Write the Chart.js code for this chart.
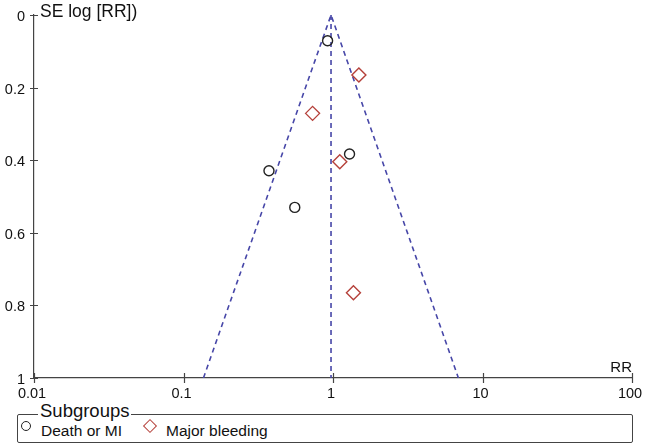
<!DOCTYPE html>
<html>
<head>
<meta charset="utf-8">
<script src="https://cdn.jsdelivr.net/npm/chart.js@4"></script>
<style>
  body { margin: 0; background: #fff; font-family: "Liberation Sans", Arial, sans-serif; }
  #wrap { position: relative; width: 646px; height: 446px; }
  #chartBox { position: absolute; left: 0; top: 0; width: 646px; height: 400px; }
  #legendBox { position: absolute; left: 17px; top: 414px; width: 614px; height: 27px;
               border: 1px solid #444; border-radius: 2px; }
  #legendTitle { position: absolute; left: 38px; top: 400px; padding: 0 2px; background: #fff;
                 font-size: 18.5px; color: #111; line-height: 21px; }
  .sym-circle { position: absolute; left: 21px; top: 421px; width: 8px; height: 8px;
                border: 1.4px solid #222; border-radius: 50%; }
  .sym-diamond { position: absolute; left: 145px; top: 421px; width: 8px; height: 8px;
                 border: 1.4px solid #b5403a; transform: rotate(45deg); }
  .lbl { position: absolute; top: 422px; font-size: 15.5px; color: #111; line-height: 18px; }
</style>
</head>
<body>
<div id="wrap">
  <div id="chartBox"><canvas id="funnel"></canvas></div>
  <div id="legendBox"></div>
  <div id="legendTitle">Subgroups</div>
  <span class="sym-circle"></span>
  <span class="lbl" style="left:41px">Death or MI</span>
  <span class="sym-diamond"></span>
  <span class="lbl" style="left:166px">Major bleeding</span>
</div>
<script>
// study points: relative risk and standard error of log RR
const deathRR = [0.92, 1.29, 0.373, 0.555];
const deathSE = [0.071, 0.383, 0.429, 0.530];
const bleedRR = [1.49, 0.73, 1.11, 1.37];
const bleedSE = [0.165, 0.271, 0.404, 0.765];

// pooled estimate line and 95% funnel limits
const pooledRR = [0.97, 0.97];
const pooledSE = [0, 1];
const funnelRR = [0.136, 0.97, 6.9];
const funnelSE = [1, 0, 1];

const xTicks = [0.01, 0.1, 1, 10, 100];
const xLabels = ['0.01', '0.1', '1', '10', '100'];
const yTicks = [0, 0.2, 0.4, 0.6, 0.8, 1];
const yLabels = ['0', '0.2', '0.4', '0.6', '0.8', '1'];

const pts = (xs, ys) => xs.map((x, i) => ({ x: x, y: ys[i] }));
const FONT = '"Liberation Sans", Arial, sans-serif';

// tick marks crossing the axis line, tick labels and the two axis captions
const axisDecor = {
    id: 'axisDecor',
    afterDraw(chart) {
        const ctx = chart.ctx;
        const xs = chart.scales.x, ys = chart.scales.y;
        const area = chart.chartArea;
        ctx.save();
        ctx.strokeStyle = '#444';
        ctx.lineWidth = 1.2;
        ctx.beginPath();
        xTicks.forEach(v => {
            const px = Math.round(xs.getPixelForValue(v)) + 0.5;
            ctx.moveTo(px, area.bottom - 5);
            ctx.lineTo(px, area.bottom + 5);
        });
        yTicks.forEach(v => {
            const py = Math.round(ys.getPixelForValue(v)) + 0.5;
            ctx.moveTo(area.left - 4, py);
            ctx.lineTo(area.left + 4, py);
        });
        ctx.stroke();

        ctx.fillStyle = '#111';
        ctx.font = '14.5px ' + FONT;
        ctx.textAlign = 'center';
        ctx.textBaseline = 'alphabetic';
        xTicks.forEach((v, i) => {
            ctx.fillText(xLabels[i], xs.getPixelForValue(v) - 2, area.bottom + 20);
        });
        ctx.textAlign = 'right';
        ctx.textBaseline = 'middle';
        yTicks.forEach((v, i) => {
            ctx.fillText(yLabels[i], area.left - 9, ys.getPixelForValue(v) + 2);
        });

        ctx.textBaseline = 'alphabetic';
        ctx.font = '17.5px ' + FONT;
        ctx.textAlign = 'left';
        ctx.fillText('SE log [RR])', area.left + 6, area.top + 2);
        ctx.font = '15px ' + FONT;
        ctx.textAlign = 'right';
        ctx.fillText('RR', area.right, area.bottom - 6);
        ctx.restore();
    }
};

new Chart(document.getElementById('funnel').getContext('2d'), {
    type: 'scatter',
    data: {
        datasets: [
            {
                label: 'Death or MI',
                data: pts(deathRR, deathSE),
                pointStyle: 'circle',
                pointRadius: 5,
                borderColor: '#222',
                backgroundColor: 'rgba(0,0,0,0)',
                borderWidth: 1.4
            },
            {
                label: 'Major bleeding',
                data: pts(bleedRR, bleedSE),
                pointStyle: 'rectRot',
                pointRadius: 7,
                borderColor: '#b5403a',
                backgroundColor: 'rgba(0,0,0,0)',
                borderWidth: 1.4
            },
            {
                label: 'Pooled',
                type: 'line',
                data: pts(pooledRR, pooledSE),
                showLine: true,
                pointRadius: 0,
                borderColor: '#4747a8',
                borderWidth: 1.6,
                borderDash: [5, 4],
                fill: false
            },
            {
                label: 'Funnel',
                type: 'line',
                data: pts(funnelRR, funnelSE),
                showLine: true,
                pointRadius: 0,
                borderColor: '#4747a8',
                borderWidth: 1.6,
                borderDash: [5, 4],
                fill: false
            }
        ]
    },
    options: {
        responsive: true,
        maintainAspectRatio: false,
        animation: false,
        layout: { padding: { top: 15, right: 14, bottom: 0, left: 0 } },
        plugins: { legend: { display: false }, tooltip: { enabled: false } },
        scales: {
            x: {
                type: 'logarithmic',
                min: 0.01,
                max: 100,
                afterFit: s => { s.height = 22; },
                grid: { display: false },
                border: { display: true, color: '#444', width: 1.2 },
                ticks: { display: false }
            },
            y: {
                reverse: true,
                min: 0,
                max: 1,
                afterFit: s => { s.width = 34; },
                grid: { display: false },
                border: { display: true, color: '#444', width: 1.2 },
                ticks: { display: false }
            }
        }
    },
    plugins: [axisDecor]
});
</script>
</body>
</html>
